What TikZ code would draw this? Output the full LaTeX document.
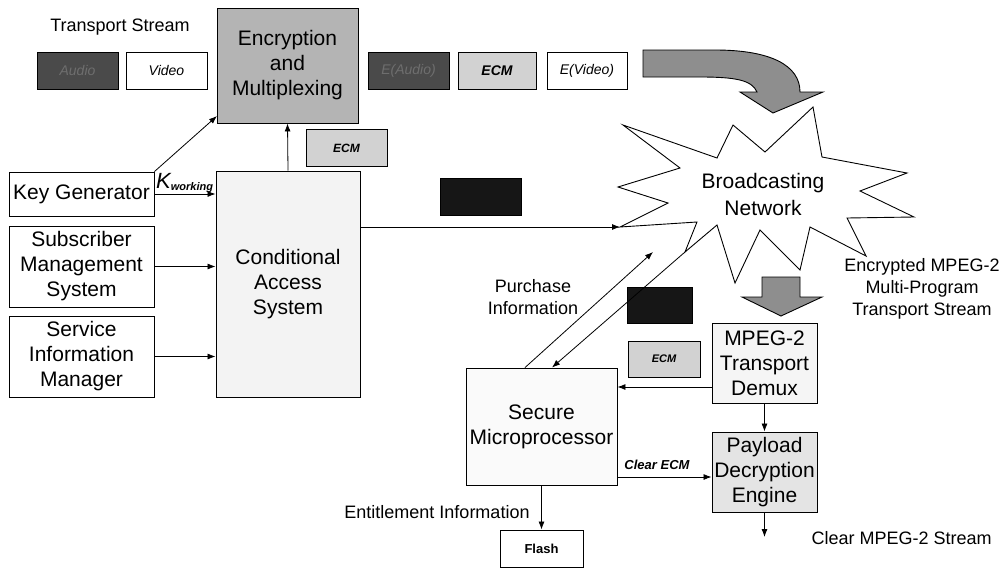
\documentclass[tikz,border=0pt]{standalone}
\usepackage{fontspec}
\setmainfont{Liberation Sans}
\usetikzlibrary{arrows.meta}

\definecolor{pktdark}{HTML}{4A4A4A}
\definecolor{pktdarktext}{HTML}{6E6E6E}
\definecolor{ecmgray}{HTML}{D2D2D2}
\definecolor{encgray}{HTML}{B4B4B4}
\definecolor{bigarrow}{HTML}{8E8E8E}
\definecolor{casfill}{HTML}{F3F3F3}
\definecolor{payfill}{HTML}{E4E4E4}
\definecolor{emmblack}{HTML}{161616}

\begin{document}
\begin{tikzpicture}[x=1pt, y=-1pt,
    box/.style={draw, line width=0.9pt, align=center, inner sep=0pt, font=\fontsize{21}{25}\selectfont},
    pkt/.style={draw, line width=0.9pt, inner sep=0pt, minimum width=81pt, minimum height=37pt, font=\fontsize{14}{16}\selectfont\itshape},
    ecmtag/.style={pkt, fill=ecmgray, font=\fontsize{12}{14}\selectfont\bfseries\itshape},
    lbl/.style={align=center, font=\fontsize{18}{22}\selectfont},
    arr/.style={-{Latex[length=8pt,width=6pt]}, line width=0.8pt}]
  \useasboundingbox (0,0) rectangle (1007,568);
  \fill[white] (0,0) rectangle (1007,568);

  % Head end: clear stream and encryption
  \node[lbl] (tslabel) at (120,27) {Transport Stream};
  \node[pkt, fill=pktdark, text=pktdarktext] (audio) at (77.5,70.5) {Audio};
  \node[pkt] (video) at (166.5,70.5) {Video};
  \node[box, fill=encgray, minimum width=141pt, minimum height=115pt] (enc) at (287.5,65.5) {Encryption\\and\\Multiplexing};
  \node[pkt, fill=pktdark, text=pktdarktext] (eaudio) at (408.5,70.5) {E(Audio)};
  \node[pkt, fill=ecmgray, minimum width=78pt, font=\fontsize{14}{16}\selectfont\bfseries\itshape] (ecmtop) at (497,70.5) {ECM};
  \node[pkt, minimum width=80pt] (evideo) at (587,70.5) {E(Video)};

  % Curved arrow into the network
  \draw[line width=0.9pt, fill=bigarrow] (643,50) -- (715,50) .. controls (770,50) and (800,65) .. (800,92)
    -- (823,92) -- (773,113) -- (740,92) -- (757,92) .. controls (752,80) and (735,77) .. (700,77) -- (643,77) -- cycle;

  % Management side
  \node[box, minimum width=145pt, minimum height=44pt] (keygen) at (81.5,194) {Key Generator};
  \node[box, minimum width=145pt, minimum height=81pt] (sms) at (81.5,266.5) {Subscriber\\Management\\System};
  \node[box, minimum width=145pt, minimum height=81pt] (sim) at (81.5,356.5) {Service\\Information\\Manager};
  \node[box, fill=casfill, minimum width=144pt, minimum height=226pt] (cas) at (288,284) {Conditional\\Access\\System};
  \node[ecmtag] (ecmcas) at (346.5,148) {ECM};
  \node[pkt, fill=emmblack] (emmtx) at (480.5,196.5) {};
  \node[anchor=base west, inner sep=0pt] (kwork) at (156,188)
    {\fontsize{22}{22}\selectfont\itshape K\raisebox{-2pt}{\fontsize{11}{11}\selectfont\bfseries working}};
  \coordinate (encin) at (217,116);

  % Broadcasting network
  \draw[line width=0.9pt, fill=white] (623,125) -- (717,158) -- (733,125) -- (765,152) -- (813,107) -- (822,157)
    -- (907,173) -- (860,191) -- (914,217) -- (847,218) -- (866,256) -- (810,227) -- (800,270) -- (760,230)
    -- (735,283) -- (717,225) -- (685,252) -- (697,222) -- (620,227) -- (668,203) -- (618,187) -- (680,168) -- cycle;
  \node[align=center, font=\fontsize{21}{27}\selectfont] (net) at (763,194) {Broadcasting\\Network};
  \coordinate (netin) at (620,227);
  \coordinate (netup) at (653,252);
  \coordinate (netdown) at (685,252);
  \node[lbl] (encts) at (922,289) {Encrypted MPEG-2\\Multi-Program\\Transport Stream};
  \draw[line width=0.9pt, fill=bigarrow] (762,277) -- (800,277) -- (800,297) -- (822,297) -- (781,316)
    -- (742,297) -- (762,297) -- cycle;

  % Receiver side
  \node[lbl] (purchase) at (533,297) {Purchase\\Information};
  \node[pkt, fill=emmblack, minimum width=65pt, minimum height=36pt] (emmrx) at (659.5,305) {};
  \node[box, fill=white!96!black, minimum width=105pt, minimum height=80pt] (demux) at (764.5,363) {MPEG-2\\Transport\\Demux};
  \node[ecmtag, minimum width=72pt, minimum height=36pt, font=\fontsize{11}{13}\selectfont\bfseries\itshape] (ecmrx) at (664,359) {ECM};
  \node[box, fill=white!98!black, minimum width=151pt, minimum height=117pt] (sm) at (541.5,426.5) {Secure\\Microprocessor};
  \node[box, fill=payfill, minimum width=105pt, minimum height=80pt] (payload) at (764.5,472) {Payload\\Decryption\\Engine};
  \node[font=\fontsize{13}{15}\selectfont\bfseries\itshape] (clearecm) at (657,465) {Clear ECM};
  \node[pkt, minimum width=83pt, font=\fontsize{13}{15}\selectfont\bfseries] (flash) at (541.5,548.5) {Flash};
  \node[lbl] (entitle) at (437,512) {Entitlement Information};
  \node[lbl, anchor=west] (clearts) at (808,538) {Clear MPEG-2 Stream};
  \coordinate (clearout) at (764.5,537);
  \coordinate (ecmin) at ([yshift=-5pt]payload.west);
  \coordinate (demuxout) at ([yshift=-24pt]demux.west);

  % Connectors
  \draw[arr] (keygen) -- (keygen -| cas.west);
  \draw[arr] (sms) -- (sms -| cas.west);
  \draw[arr] (sim) -- (sim -| cas.west);
  \draw[arr] (keygen.north east) -- (encin);
  \draw[arr] (cas.north) -- (enc.south);
  \draw[arr] (netin -| cas.east) -- (netin);
  \draw[arr] ([xshift=-16.5pt]sm.north) -- (netup);
  \draw[arr] (netdown) -- ([xshift=10.5pt]sm.north);
  \draw[arr] (demuxout) -- (demuxout -| sm.east);
  \draw[arr] (demux.south) -- (payload.north);
  \draw[arr] (ecmin -| sm.east) -- (ecmin);
  \draw[arr] (payload.south) -- (clearout);
  \draw[arr] (sm.south) -- (flash.north);
\end{tikzpicture}
\end{document}
